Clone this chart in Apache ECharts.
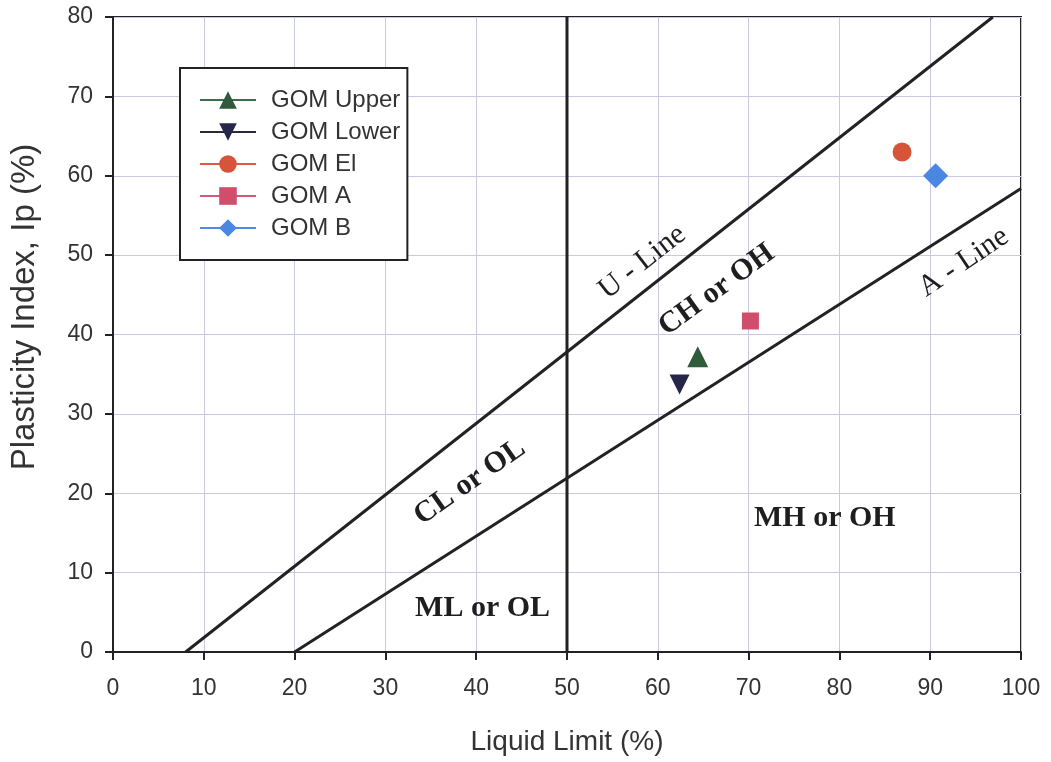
<!DOCTYPE html>
<html>
<head>
<meta charset="utf-8">
<title>Plasticity Chart</title>
<script src="https://cdn.jsdelivr.net/npm/echarts@6/dist/echarts.min.js"></script>
<style>
  html, body { margin: 0; padding: 0; background: #ffffff; }
  #chart { width: 1051px; height: 762px; }
</style>
</head>
<body>
<div id="chart"></div>
<script>
// Axis ticks
const xTicks = [0, 10, 20, 30, 40, 50, 60, 70, 80, 90, 100];
const yTicks = [0, 10, 20, 30, 40, 50, 60, 70, 80];

// Sample names and measured [Liquid Limit, Plasticity Index]
const sampleNames = ['GOM Upper', 'GOM Lower', 'GOM El', 'GOM A', 'GOM B'];
const gomUpper = [[64.4, 37.2]];
const gomLower = [[62.4, 33.7]];
const gomEl = [[86.9, 63.0]];
const gomA = [[70.2, 41.7]];
const gomB = [[90.6, 60.0]];

// Classification lines (LL, PI)
const uLine = [[8, 0], [96.9, 80]];
const aLine = [[20, 0], [100, 58.4]];
const llDivide = [[50, 0], [50, 80]];

// Zone and line captions
const captionTexts = ['U - Line', 'CH or OH', 'A - Line', 'CL or OL', 'MH or OH', 'ML or OL'];
const captionAt = [[58.3, 49.1], [66.5, 45.6], [93.7, 49.1], [39.3, 21.4], [78.4, 16.9], [40.7, 5.5]];

const styles = {
  'GOM Upper': { symbol: 'triangle', size: 21, rotate: 0, fill: '#2f5a3c', line: '#3d6e4c' },
  'GOM Lower': { symbol: 'triangle', size: 20, rotate: 180, fill: '#25264a', line: '#2a2a3e' },
  'GOM El':    { symbol: 'circle',   size: 19, rotate: 0, fill: '#d6553a', line: '#dc5b40' },
  'GOM A':     { symbol: 'rect',     size: 17, rotate: 0, fill: '#d14d6c', line: '#d6577a' },
  'GOM B':     { symbol: 'diamond',  size: 25, rotate: 0, fill: '#4a86e2', line: '#4f8be6' }
};
const sampleData = [gomUpper, gomLower, gomEl, gomA, gomB];

const captionStyle = [
  { rotate: 38, weight: 'normal' },
  { rotate: 36, weight: 'bold' },
  { rotate: 34, weight: 'normal' },
  { rotate: 35, weight: 'bold' },
  { rotate: 0, weight: 'bold' },
  { rotate: 0, weight: 'bold' }
];

const refLine = (data) => ({
  type: 'line',
  data: data,
  symbol: 'none',
  silent: true,
  lineStyle: { color: '#222222', width: 3 },
  z: 3
});

const sampleSeries = sampleNames.map((name, i) => {
  const s = styles[name];
  return {
    name: name,
    type: 'line',
    data: sampleData[i],
    symbol: s.symbol,
    symbolSize: s.size,
    symbolRotate: s.rotate,
    showAllSymbol: true,
    itemStyle: { color: s.fill, borderWidth: 0 },
    lineStyle: { color: s.line, width: 2 },
    z: 5
  };
});

const captionSeries = {
  type: 'scatter',
  silent: true,
  symbolSize: 0,
  itemStyle: { opacity: 1 },
  z: 6,
  data: captionTexts.map((t, i) => ({
    value: captionAt[i],
    label: {
      show: true,
      formatter: t,
      position: 'inside',
      rotate: captionStyle[i].rotate,
      fontFamily: 'Liberation Serif, Times New Roman, serif',
      fontSize: 30,
      fontWeight: captionStyle[i].weight,
      color: '#1e1e1e',
      opacity: 1
    }
  }))
};

const chart = echarts.init(document.getElementById('chart'), null, { renderer: 'canvas' });
chart.setOption({
  animation: false,
  backgroundColor: '#ffffff',
  textStyle: { fontFamily: 'Liberation Sans, Arial, sans-serif' },
  grid: {
    left: 113, right: 30, top: 17, bottom: 110,
    show: true, borderColor: '#222222', borderWidth: 2
  },
  legend: {
    data: sampleNames,
    orient: 'vertical',
    left: 180, top: 68,
    itemWidth: 56, itemHeight: 22, itemGap: 8,
    padding: [20, 7, 20, 19],
    borderColor: '#222222', borderWidth: 2,
    backgroundColor: '#ffffff',
    textStyle: { fontSize: 24, color: '#333333', padding: [0, 0, 0, 10] },
    z: 10
  },
  graphic: [{
    type: 'text',
    x: 25, y: 307,
    rotation: Math.PI / 2,
    style: {
      text: 'Plasticity Index, Ip (%)',
      font: '33px "Liberation Sans", Arial, sans-serif',
      fill: '#333333',
      textAlign: 'center',
      textVerticalAlign: 'middle'
    }
  }],
  xAxis: {
    type: 'value',
    min: xTicks[0], max: xTicks[xTicks.length - 1], interval: 10,
    name: 'Liquid Limit (%)',
    nameLocation: 'middle', nameGap: 76,
    nameTextStyle: { fontSize: 28, color: '#333333' },
    axisLine: { lineStyle: { color: '#222222', width: 2 } },
    axisTick: { show: true, inside: false, length: 8, lineStyle: { color: '#222222', width: 2 } },
    axisLabel: { fontSize: 23, color: '#333333', margin: 25 },
    splitLine: { show: true, lineStyle: { color: '#c9c9e2', width: 1 } }
  },
  yAxis: {
    type: 'value',
    min: yTicks[0], max: yTicks[yTicks.length - 1], interval: 10,
    axisLine: { lineStyle: { color: '#222222', width: 2 } },
    axisTick: { show: true, inside: false, length: 8, lineStyle: { color: '#222222', width: 2 } },
    axisLabel: { fontSize: 23, color: '#333333', margin: 20 },
    splitLine: { show: true, lineStyle: { color: '#c9c9e2', width: 1 } }
  },
  series: [refLine(uLine), refLine(aLine), refLine(llDivide), captionSeries].concat(sampleSeries)
});
</script>
</body>
</html>
